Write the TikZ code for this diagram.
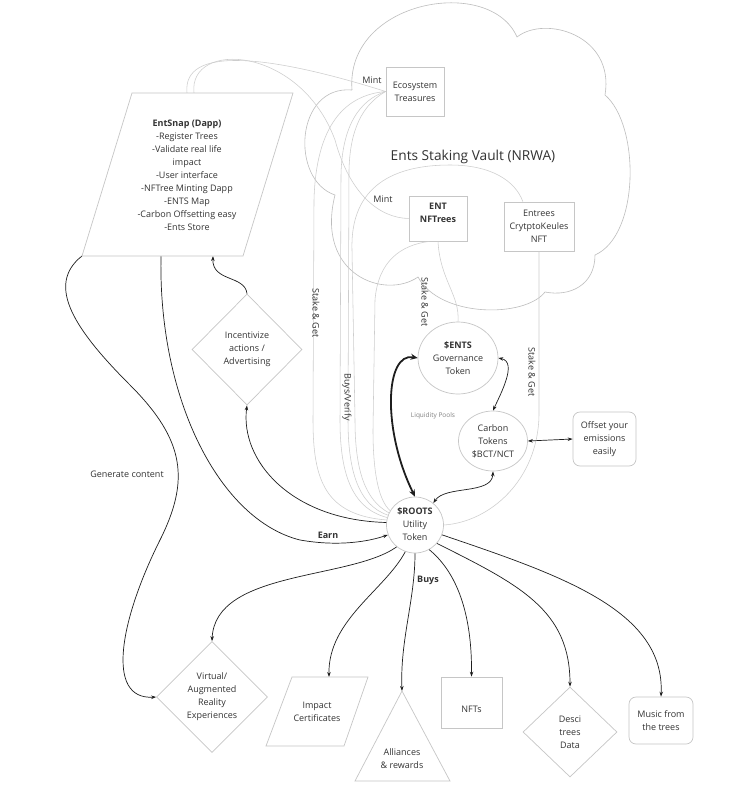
\documentclass[tikz,border=0pt]{standalone}
\usepackage{fontspec}
\setmainfont{Open Sans}
\usetikzlibrary{arrows.meta,shapes.geometric}
\definecolor{bord}{HTML}{C6C6C6}
\definecolor{txt}{HTML}{333333}
\definecolor{gline}{HTML}{CDCDCD}
\definecolor{cloudc}{HTML}{BDBDBD}
\definecolor{blk}{HTML}{1E1E1E}
\begin{document}
\begin{tikzpicture}[x=1pt,y=-1pt,
  every node/.style={font=\fontsize{9}{13}\selectfont, text=txt, align=center, inner sep=0pt},
  shp/.style={draw=bord, line width=0.7pt, fill=white},
  conn/.style={draw=blk, line width=0.7pt, -{Stealth[length=5pt,width=3.5pt]}},
  biconn/.style={draw=blk, line width=0.7pt, {Stealth[length=5pt,width=3.5pt]}-{Stealth[length=5pt,width=3.5pt]}},
  thickconn/.style={draw=blk, line width=1.8pt, {Stealth[length=7pt,width=6pt]}-{Stealth[length=7pt,width=6pt]}},
  gl/.style={draw=gline, line width=0.55pt},
  vlab/.style={rotate=-90},
  lbl/.style={font=\fontsize{9}{11}\selectfont}
]
\fill[white] (0,0) rectangle (750,800);
\useasboundingbox (0,0) rectangle (750,800);

% ---------- cloud ----------
\draw[cloudc, line width=0.6pt]
  (352,90) .. controls (345,0) and (490,-25) .. (517,37)
  .. controls (545,15) and (615,35) .. (605,95)
  .. controls (640,125) and (640,235) .. (595,255)
  .. controls (595,285) and (570,297) .. (545,292)
  .. controls (525,318) and (440,318) .. (418,277)
  .. controls (385,300) and (315,275) .. (335,195)
  .. controls (290,180) and (295,85) .. (352,90);
\node[font=\fontsize{13.7}{16}\selectfont] (vault) at (473,157) {Ents Staking Vault (NRWA)};

% ---------- shapes (nodes) ----------
\coordinate (sTL) at (132,93);
\coordinate (sTR) at (293,93);
\coordinate (sBR) at (243,256);
\coordinate (sBL) at (82,256);
\coordinate (sT1) at (187,93);
\coordinate (sT2) at (194,93);
\coordinate (sB1) at (161,256);
\coordinate (sB2) at (213,256);

\node[shp, minimum width=58pt, minimum height=49pt] (eco) at (415,91.5) {Ecosystem\\Treasures};
\node[shp, minimum width=58pt, minimum height=45pt] (nft) at (438,218.5) {};
\node[shp, minimum width=70pt, minimum height=49pt] (ent) at (539,226.5) {Entrees\\CrytptoKeules\\NFT};

\node[shp, ellipse, minimum width=80pt, minimum height=72pt] (ents) at (458,358) {};
\node[shp, ellipse, minimum width=69pt, minimum height=60pt] (carbon) at (493,441) {Carbon\\Tokens\\\$BCT/NCT};
\node[shp, rounded corners=7pt, minimum width=63pt, minimum height=54pt] (offset) at (604.5,439) {Offset your\\emissions\\easily};
\node[shp, ellipse, minimum width=57pt, minimum height=56pt] (roots) at (415,525) {};

\node[shp, diamond, minimum width=110pt, minimum height=111pt] (incent) at (247,349.5) {Incentivize\\actions /\\Advertising};
\node[shp, diamond, minimum width=111pt, minimum height=111pt] (virt) at (212,697) {Virtual/\\Augmented\\Reality\\Experiences};
\node[shp, minimum width=61pt, minimum height=51pt] (nfts) at (471.5,702.5) {};
\node[shp, diamond, minimum width=94pt, minimum height=90pt] (desci) at (570,732) {Desci\\trees\\Data};
\node[shp, rounded corners=7pt, minimum width=64pt, minimum height=47pt] (music) at (661,720.5) {Music from\\the trees};

\coordinate (iTL) at (292,677);
\coordinate (iTR) at (368,677);
\coordinate (iBR) at (344,746);
\coordinate (iBL) at (266,746);
\coordinate (iTop) at (329,677);
\coordinate (aTop) at (402,691);
\coordinate (aBL) at (355,781);
\coordinate (aBR) at (450,781);

% ---------- grey connectors ----------
\draw[gl] (roots.170) .. controls (325,515) and (313,480) .. (313,420) -- (314,200) .. controls (316,125) and (345,95) .. (eco.west);
\draw[gl] (roots.165) .. controls (350,508) and (340,470) .. (340,420) -- (341,175) .. controls (342,125) and (360,100) .. (eco.west);
\draw[gl] (roots.160) .. controls (358,505) and (348,470) .. (348,420) -- (349,170) .. controls (350,130) and (362,105) .. (eco.west);
\draw[gl] (roots.155) .. controls (365,500) and (355,470) .. (355,420) -- (352,250) .. controls (350,185) and (395,165) .. (450,165) .. controls (490,165) and (515,180) .. (ent.123);
\draw[gl] (roots.150) .. controls (378,500) and (373,470) .. (373,430) -- (375,300) .. controls (378,262) and (400,245) .. (nft.250);
\draw[gl] (sT1) .. controls (182,45) and (270,55) .. (eco.west);
\draw[gl] (sT2) .. controls (188,40) and (300,45) .. (335,140) .. controls (350,195) and (380,218) .. (nft.west);
\draw[gl] (nft.south) .. controls (440,280) and (460,295) .. (ents.north);
\draw[gl] (ent.south) -- (539,415) .. controls (538,480) and (490,522) .. (roots.east);

% ---------- black connectors ----------
\draw[thickconn] (ents.west) .. controls (385,352) and (382,430) .. (roots.north);
\draw[biconn] (ents.east) .. controls (518,362) and (500,395) .. (carbon.north);
\draw[biconn] (roots.50) .. controls (445,485) and (492,495) .. (carbon.south);
\draw[biconn] (carbon.east) -- (offset.west);
\draw[conn] (roots.175) .. controls (290,520) and (240,460) .. (incent.south);
\draw[conn] (incent.north) .. controls (245,275) and (212,282) .. (sB2);
\draw[conn] (sB1) .. controls (158,400) and (220,520) .. (300,540) .. controls (340,547) and (370,541) .. (roots.200);
\draw[conn] (sBL) .. controls (45,285) and (75,330) .. (130,385) .. controls (185,440) and (190,480) .. (160,540) .. controls (120,620) and (105,700) .. (virt.west);
\draw[conn] (roots.230) .. controls (350,580) and (215,570) .. (virt.north);
\draw[conn] (roots.250) .. controls (385,590) and (328,620) .. (iTop);
\draw[conn] (roots.south) .. controls (415,600) and (400,640) .. (aTop);
\draw[conn] (roots.300) .. controls (460,575) and (472,620) .. (nfts.north);
\draw[conn] (roots.320) .. controls (520,585) and (570,610) .. (desci.north);
\draw[conn] (roots.340) .. controls (560,575) and (665,610) .. (music.north);

% ---------- polygon shapes ----------
\draw[shp] (sTL) -- (sTR) -- (sBR) -- (sBL) -- cycle;
\draw[shp] (iTL) -- (iTR) -- (iBR) -- (iBL) -- cycle;
\draw[shp] (aTop) -- (aBR) -- (aBL) -- cycle;

% ---------- texts ----------
\node (entsnap) at (187,175.5) {\textbf{EntSnap (Dapp)}\\-Register Trees\\-Validate real life\\impact\\-User interface\\-NFTree Minting Dapp\\-ENTS Map\\-Carbon Offsetting easy\\-Ents Store};
\node (nftT) at (438,212.5) {\textbf{ENT}\\\textbf{NFTrees}};
\node (entsT) at (458,358) {\textbf{\$ENTS}\\Governance\\Token};
\node (rootsT) at (415,524.5) {\textbf{\$ROOTS}\\Utility\\Token};
\node (impactT) at (317,712) {Impact\\Certificates};
\node (allT) at (402,758.5) {Alliances\\\& rewards};
\node (nftsT) at (471.5,709) {NFTs};

\node[lbl] (mint1) at (372,80) {Mint};
\node[lbl] (mint2) at (383,199) {Mint};
\node[lbl, vlab] (sg1) at (316,313) {Stake \& Get};
\node[lbl, vlab] (bv) at (347,397) {Buys/Verify};
\node[lbl, vlab] (sg2) at (425,302) {Stake \& Get};
\node[lbl, vlab] (sg3) at (532,372) {Stake \& Get};
\node[font=\fontsize{6.5}{8}\selectfont, text=gray] (liq) at (433,416) {Liquidity Pools};
\node[lbl] (gen) at (127,474) {Generate content};
\node[lbl, font=\fontsize{9}{11}\selectfont\bfseries] (earn) at (328,535) {Earn};
\node[lbl, font=\fontsize{9}{11}\selectfont\bfseries] (buys) at (428,580) {Buys};
\end{tikzpicture}
\end{document}
